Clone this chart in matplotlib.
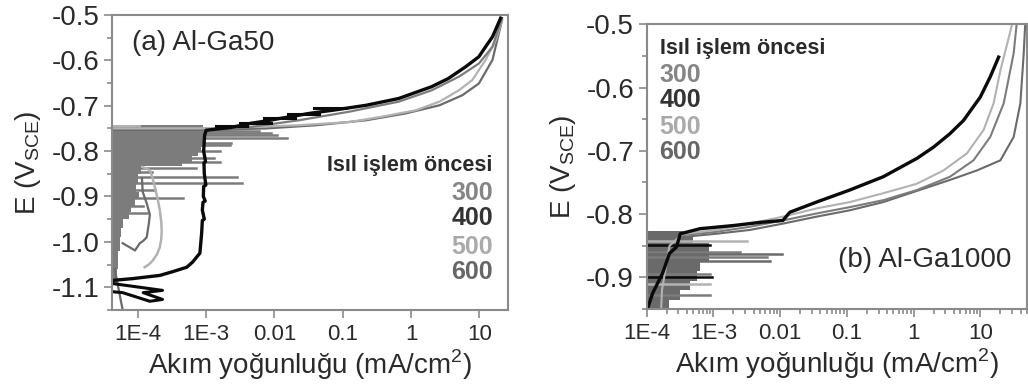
import matplotlib
matplotlib.use("Agg")
import numpy as np
import matplotlib.pyplot as plt
from matplotlib.ticker import FixedLocator, FixedFormatter, LogLocator, NullFormatter

plt.rcParams["font.family"] = ["Liberation Sans", "DejaVu Sans"]
plt.rcParams["axes.unicode_minus"] = False

# colours of the four heat-treatment curves
c300 = "#7c7c7c"
c400 = "#0a0a0a"
c500 = "#b2b2b2"
c600 = "#6a6a6a"
frame = "#8a8a8a"
txt = "#2a2a2a"

labels = ["300", "400", "500", "600"]
label_colours = ["#858585", "#333333", "#aaaaaa", "#666666"]

# ---------------- (a) Al-Ga50 ----------------
a400_I = [20.4, 15.5, 12.3, 9.8, 6.3, 3.5, 2.0, 0.66, 0.22, 0.071, 0.032, 0.016, 0.012, 0.008, 0.0044,
          0.0023, 0.001, 0.00095, 0.00092, 0.00098, 0.00093, 0.00094, 0.00099, 0.00092, 0.00091, 0.00097,
          0.0009, 0.00088, 0.00094, 0.00088, 0.00086, 0.00081, 0.00063, 0.00052, 0.00032, 0.00021, 0.000085, 0.000043]
a400_E = [-0.507, -0.548, -0.570, -0.592, -0.614, -0.640, -0.658, -0.684, -0.699, -0.710, -0.717, -0.725, -0.728,
          -0.733, -0.739, -0.748, -0.754, -0.765, -0.80, -0.823, -0.826, -0.85, -0.875, -0.878,
          -0.90, -0.91, -0.913, -0.93, -0.95, -0.953, -0.981, -1.025, -1.045, -1.056, -1.066, -1.074, -1.081, -1.085]
a400_noise_I = [0.000043, 0.00023, 0.00012, 0.00023, 0.00015, 0.00006, 0.000043]
a400_noise_E = [-1.092, -1.107, -1.112, -1.127, -1.131, -1.112, -1.11]
a400_spike_E = [-0.705, -0.718, -0.728, -0.737, -0.745]
a400_spike_I = [0.11, 0.045, 0.02, 0.009, 0.004]

a300_I = [21.4, 15.5, 9.8, 5.0, 2.0, 0.66, 0.126, 0.023, 0.0044, 0.00081, 0.00004]
a300_E = [-0.507, -0.570, -0.607, -0.636, -0.666, -0.691, -0.713, -0.732, -0.747, -0.758, -0.758]
a500_I = [21.4, 17.4, 12.3, 7.9, 5.0, 2.6, 1.17, 0.38, 0.126, 0.023, 0.0044, 0.00081, 0.00004]
a500_E = [-0.511, -0.555, -0.599, -0.643, -0.666, -0.691, -0.710, -0.724, -0.736, -0.743, -0.747, -0.750, -0.750]
a600_I = [21.4, 15.5, 9.8, 5.6, 2.6, 0.83, 0.22, 0.041, 0.0076, 0.00081, 0.00004]
a600_E = [-0.511, -0.599, -0.651, -0.677, -0.699, -0.717, -0.732, -0.743, -0.750, -0.754, -0.754]

a500_cath_I = [1.17e-4, 1.5e-4, 1.65e-4, 1.78e-4, 1.95e-4, 2.1e-4, 2.2e-4, 2.24e-4, 2.2e-4, 2.1e-4,
               1.9e-4, 1.66e-4, 1.45e-4, 1.26e-4]
a500_cath_E = [-0.835, -0.842, -0.86, -0.88, -0.905, -0.93, -0.955, -0.975, -0.995, -1.012,
               -1.028, -1.041, -1.05, -1.056]
a600_cath_I = [1.15e-4, 1.18e-4, 1.35e-4, 1.5e-4, 1.45e-4, 1.35e-4, 1.2e-4, 1.07e-4, 9.1e-5, 7.6e-5, 6.0e-5]
a600_cath_E = [-0.86, -0.89, -0.915, -0.94, -0.96, -0.99, -0.998, -1.003, -1.019, -1.012, -1.003]
a600_tail_I = [4.6e-5, 6.0e-5]
a600_tail_E = [-1.06, -1.15]

# dense noisy band (right edge of the grey region, stepwise)
a_fill_E = [-0.743, -0.768, -0.79, -0.80, -0.81, -0.826, -0.832, -0.85, -0.87, -0.89, -0.905, -0.92,
            -0.935, -0.95, -0.97, -0.99, -1.02, -1.06, -1.09]
a_fill_I = [8.9e-4, 8.9e-4, 8.5e-4, 7.6e-4, 6.3e-4, 4.5e-4, 1.1e-4, 1.0e-4, 9.5e-5, 1.05e-4, 9.0e-5, 8.0e-5,
            7.5e-5, 6.0e-5, 5.6e-5, 5.4e-5, 5.2e-5, 5.0e-5, 5.0e-5]
a_spike_E = [-0.750, -0.755, -0.760, -0.765, -0.772, -0.783, -0.787, -0.80, -0.815, -0.824, -0.838,
             -0.845, -0.857, -0.871, -0.885, -0.904, -0.92, -0.937]
a_spike_I = [3e-3, 6e-3, 9e-3, 0.011, 0.015, 2.3e-3, 2.2e-3, 1.6e-3, 1.3e-3, 1.6e-3, 7.2e-4,
             1.6e-4, 2.8e-3, 3.4e-3, 1.8e-4, 4.6e-4, 1.2e-4, 1.35e-4]

# ---------------- (b) Al-Ga1000 ----------------
b400_I = [18.8, 14.1, 10.0, 5.6, 3.5, 2.0, 1.12, 0.35, 0.11, 0.035, 0.014, 0.011, 0.005, 2.0e-3, 6.3e-4,
          3.2e-4, 2.8e-4, 2.2e-4, 1.74e-4, 1.23e-4, 1.05e-4]
b400_E = [-0.552, -0.583, -0.615, -0.652, -0.673, -0.694, -0.712, -0.741, -0.762, -0.781, -0.797, -0.81,
          -0.813, -0.818, -0.823, -0.831, -0.852, -0.862, -0.893, -0.925, -0.947]
b300_I = [35, 31.6, 22.4, 14.1, 7.9, 3.5, 1.12, 0.35, 0.11, 0.035, 0.011, 3.5e-3, 1.1e-3, 3.5e-4]
b300_E = [-0.5, -0.546, -0.625, -0.678, -0.715, -0.741, -0.762, -0.778, -0.789, -0.799, -0.810, -0.820,
          -0.828, -0.833]
b500_I = [30, 20, 15.8, 11.2, 6.3, 2.8, 1.12, 0.35, 0.11, 0.035, 0.011, 3.5e-3, 1.1e-3, 3.5e-4, 2.2e-4,
          1.9e-4, 1.7e-4, 1.65e-4]
b500_E = [-0.5, -0.573, -0.625, -0.667, -0.704, -0.731, -0.752, -0.767, -0.781, -0.791, -0.804, -0.815,
          -0.825, -0.831, -0.85, -0.89, -0.92, -0.95]
b600_I = [47, 44.7, 39.8, 31.6, 20, 8.9, 3.5, 0.35, 0.11, 0.035, 0.011, 3.5e-3, 1.1e-3, 3.5e-4]
b600_E = [-0.5, -0.546, -0.625, -0.678, -0.715, -0.731, -0.746, -0.781, -0.794, -0.804, -0.815, -0.825,
          -0.831, -0.836]

b_fill_E = [-0.827, -0.835, -0.845, -0.86, -0.875, -0.89, -0.905, -0.92, -0.935, -0.95]
b_fill_I = [3.5e-4, 5.0e-4, 8.5e-4, 8.5e-4, 6.3e-4, 5.6e-4, 4.5e-4, 3.2e-4, 2.2e-4, 1.3e-4]
b_spike_E = [-0.842, -0.848, -0.86, -0.863, -0.868, -0.874, -0.895, -0.90, -0.91, -0.928]
b_spike_I = [3.2e-3, 8.9e-4, 2.5e-3, 0.0107, 6.3e-3, 7.1e-3, 9.0e-4, 9.5e-4, 8.9e-4, 8.9e-4]
b_spike_c = [c500, c400, c300, c600, c300, c600, c300, c400, c500, c300]

fig = plt.figure(figsize=(10.28, 3.84), dpi=100)
ax1 = fig.add_axes([0.109, 0.193, 0.385, 0.768])
ax2 = fig.add_axes([0.629, 0.195, 0.370, 0.742])

# panel (a)
ax1.fill_betweenx(a_fill_E, 1e-5, a_fill_I, step="post", color=c300, lw=0)
ax1.fill_betweenx([-0.743, -0.752], 1e-5, 1.1e-4, color=c500, lw=0)
for e, i in zip(a_spike_E, a_spike_I):
    ax1.plot([1e-5, i], [e, e], color=c300, lw=1.8)
ax1.plot(a600_cath_I, a600_cath_E, color=c600, lw=1.6)
ax1.plot(a600_tail_I, a600_tail_E, color=c600, lw=1.6)
ax1.plot(a500_cath_I, a500_cath_E, color=c500, lw=1.8)
ax1.plot(a600_I, a600_E, color=c600, lw=1.6)
ax1.plot(a500_I, a500_E, color=c500, lw=1.6)
ax1.plot(a300_I, a300_E, color=c300, lw=1.6)
for e, i in zip(a400_spike_E, a400_spike_I):
    ax1.plot([i * 0.35, i], [e, e], color=c400, lw=2.2)
ax1.plot(a400_noise_I, a400_noise_E, color=c400, lw=2.2)
ax1.plot(a400_I, a400_E, color=c400, lw=2.4)
ax1.set_xlim(4.2e-5, 26)
ax1.set_ylim(-1.15, -0.5)
a_yt = [-0.5, -0.6, -0.7, -0.8, -0.9, -1.0, -1.1]

# panel (b)
ax2.fill_betweenx(b_fill_E, 1e-5, b_fill_I, step="post", color=c600, lw=0)
for e, i, c in zip(b_spike_E, b_spike_I, b_spike_c):
    ax2.plot([1e-5, i], [e, e], color=c, lw=1.8)
ax2.plot(b600_I, b600_E, color=c600, lw=1.5)
ax2.plot(b300_I, b300_E, color=c300, lw=1.5)
ax2.plot(b500_I, b500_E, color=c500, lw=1.5)
ax2.plot(b400_I, b400_E, color=c400, lw=2.4)
ax2.set_xlim(1e-4, 50)
ax2.set_ylim(-0.95, -0.5)
b_yt = [-0.5, -0.6, -0.7, -0.8, -0.9]

xt = [1e-4, 1e-3, 1e-2, 0.1, 1, 10]
xt_lab = ["1E-4", "1E-3", "0.01", "0.1", "1", "10"]

for ax, yt in [(ax1, a_yt), (ax2, b_yt)]:
    ax.set_xscale("log")
    ax.xaxis.set_major_locator(FixedLocator(xt))
    ax.xaxis.set_major_formatter(FixedFormatter(xt_lab))
    ax.xaxis.set_minor_locator(LogLocator(base=10, subs=np.arange(2, 10)))
    ax.xaxis.set_minor_formatter(NullFormatter())
    ax.yaxis.set_major_locator(FixedLocator(yt))
    ax.yaxis.set_major_formatter(FixedFormatter(["%.1f" % v for v in yt]))
    ax.yaxis.set_minor_locator(FixedLocator([v - 0.05 for v in yt]))
    for s in ax.spines.values():
        s.set_color(frame)
        s.set_linewidth(1.5)
    ax.tick_params(which="both", direction="out", color=frame, width=1.2)
    ax.tick_params(which="major", length=6)
    ax.tick_params(which="minor", length=3.5)
    ax.tick_params(axis="x", labelsize=16, labelcolor=txt, pad=4)
    ax.tick_params(axis="y", labelsize=20, labelcolor=txt, pad=3)
    ax.set_xlabel("Akım yoğunluğu (mA/cm$^{\\mathregular{2}}$)", fontsize=20, color=txt, labelpad=2)
    ax.set_ylabel("E (V$_{\\mathregular{SCE}}$)", fontsize=20, color=txt, labelpad=6)

ax1.text(0.05, 0.905, "(a) Al-Ga50", transform=ax1.transAxes, fontsize=20, color=txt, va="center")
ax2.text(0.503, 0.172, "(b) Al-Ga1000", transform=ax2.transAxes, fontsize=20, color=txt, va="center")

ax1.text(0.962, 0.49, "Isıl işlem öncesi", transform=ax1.transAxes, fontsize=15.5,
         fontweight="bold", color=txt, ha="right", va="center")
for lab, col, y in zip(labels, label_colours, [0.397, 0.312, 0.214, 0.129]):
    ax1.text(0.962, y, lab, transform=ax1.transAxes, fontsize=18, fontweight="bold",
             color=col, ha="right", va="center")

ax2.text(0.034, 0.916, "Isıl işlem öncesi", transform=ax2.transAxes, fontsize=15.5,
         fontweight="bold", color=txt, ha="left", va="center")
for lab, col, y in zip(labels, label_colours, [0.821, 0.733, 0.639, 0.551]):
    ax2.text(0.034, y, lab, transform=ax2.transAxes, fontsize=18, fontweight="bold",
             color=col, ha="left", va="center")

fig.savefig("out.png", dpi=100)
